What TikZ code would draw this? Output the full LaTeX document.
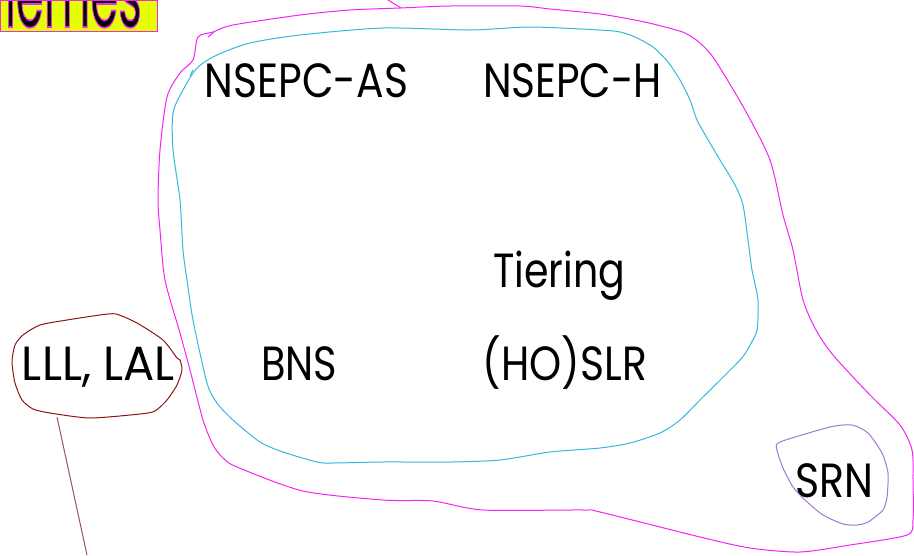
\documentclass[tikz,border=0pt]{standalone}
\usepackage{fontspec}
\setmainfont{Poppins}
\definecolor{mag}{HTML}{F522F5}
\definecolor{cy}{HTML}{33B8DD}
\definecolor{brn}{HTML}{8E1414}
\definecolor{lav}{HTML}{A077D6}
\definecolor{mauve}{HTML}{A04A78}
\definecolor{ylw}{HTML}{E4FF00}
\newcommand{\fitw}[2]{\resizebox{#1pt}{\height}{#2}}
\tikzset{
  lbl/.style={inner sep=0pt, anchor=base, text=black, font=\fontsize{48}{48}\selectfont},
  blob/.style={line width=1pt, line join=round},
}
\begin{document}
\begin{tikzpicture}[x=1pt,y=-1pt]
\useasboundingbox (0,0) rectangle (914,555);
% title box
\begin{scope}
\clip (0,0) rectangle (157,31);
\fill[ylw] (0,0) rectangle (157,31);
\node[lbl, anchor=base east, font=\fontsize{96}{96}\selectfont] (title) at (142,27)
  {\special{pdf:literal direct 2 Tr 0.96 0.13 0.96 RG 1.6 w}\scalebox{0.47}[1]{Schemes}\special{pdf:literal direct 0 Tr}};
\end{scope}
\draw[mag, line width=1pt] (0,0) rectangle (157,31);
% magenta blob
\draw[blob, mag] plot[smooth cycle, tension=0.45] coordinates {
(198,37) (213,32) (233,25) (300,15) (350,10) (400,8) (450,6) (520,6) (550,9) (600,14) (640,21) (665,27) (685,33) (700,43) (715,60) (745,110) (770,160) (783,215) (793,250) (803,300) (816,330) (833,355) (870,395) (900,425) (912,450) (913,480) (913,520) (907,535) (850,545) (800,552) (750,548) (700,537) (600,512) (583,510) (483,510) (433,501) (383,500) (303,491) (237,467) (223,458) (213,445) (203,420) (190,370) (180,333) (165,280) (160,230) (158,200) (160,150) (167,97) (180,73) (193,60)};
\coordinate (mtailA) at (388,0);
\coordinate (mtailB) at (401,8);
\draw[blob, mag] (mtailA) -- (mtailB);
\coordinate (mtickA) at (208,37);
\coordinate (mtickB) at (214,32);
\draw[blob, mag] (mtickA) -- (mtickB);
% cyan blob
\draw[blob, cy] plot[smooth cycle, tension=0.45] coordinates {
(197,68) (217,55) (250,43) (300,35) (383,28) (470,30) (530,27) (600,30) (620,32) (635,37) (653,47) (668,62) (680,80) (690,100) (697,120) (707,138) (720,160) (735,185) (743,205) (748,240) (752,270) (758,300) (757,330) (750,345) (740,360) (700,400) (680,420) (660,433) (630,443) (600,448) (550,452) (500,460) (450,462) (383,462) (333,463) (317,462) (283,452) (260,442) (233,420) (217,403) (207,383) (193,320) (187,280) (183,250) (180,200) (173,150) (173,113) (183,90)};
\coordinate (ctickA) at (190,76);
\coordinate (ctickB) at (193,70);
\draw[blob, cy] (ctickA) -- (ctickB);
% brown blob
\draw[blob, brn] plot[smooth cycle, tension=0.4] coordinates {
(116,314) (100,315) (67,320) (40,325) (23,335) (15,345) (12,362) (15,383) (22,400) (33,409) (50,413) (90,418) (140,414) (155,411) (167,400) (177,385) (182,370) (180,360) (177,358) (163,340) (137,323)};
% lavender blob
\draw[blob, lav] plot[smooth cycle, tension=0.4] coordinates {
(780,442) (830,427) (852,425) (868,433) (882,453) (888,473) (887,497) (883,510) (868,522) (857,525) (843,524) (823,515) (805,500) (793,487) (783,468) (777,450)};
% labels
\node[lbl] (nsepcas) at (306.5,97) {\fitw{203}{NSEPC-AS}};
\node[lbl] (nsepch) at (572.5,97) {\fitw{179}{NSEPC-H}};
\node[lbl] (tiering) at (559,287) {\fitw{132}{Tiering}};
\node[lbl] (bns) at (299,380) {\fitw{76}{BNS}};
\node[lbl] (hoslr) at (565,380) {\fitw{164}{(HO)SLR}};
\node[lbl] (lll) at (98.5,380) {\fitw{153}{LLL, LAL}};
\node[lbl] (srn) at (834,497) {\fitw{78}{SRN}};
% tail from brown blob
\coordinate (lllTailA) at (57,417);
\coordinate (lllTailB) at (87,555);
\draw[mauve, line width=1pt] (lllTailA) -- (lllTailB);
\end{tikzpicture}
\end{document}
